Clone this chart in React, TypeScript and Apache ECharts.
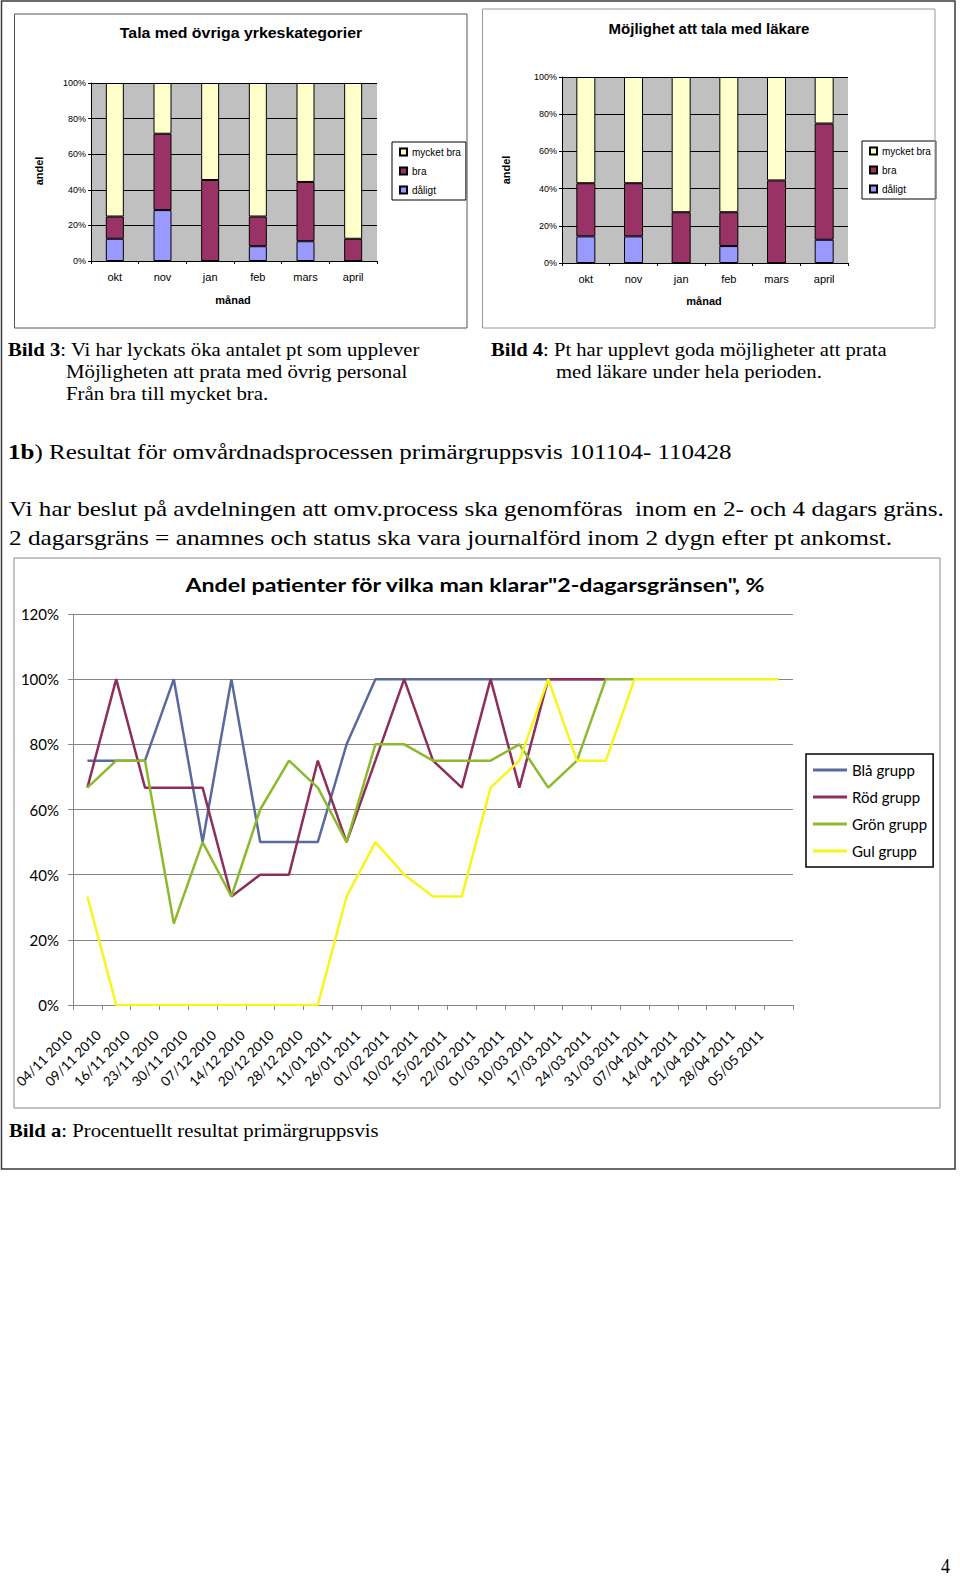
import React, { useEffect, useRef } from "react";
import * as echarts from "echarts";

// ---------- data ----------
const months = ["okt", "nov", "jan", "feb", "mars", "april"];
const c1Daligt = [12.5, 28.6, 0, 8.3, 11.1, 0];
const c1Bra = [12.5, 42.9, 45.5, 16.7, 33.3, 12.5];
const c1MycketBra = [75, 28.5, 54.5, 75, 55.6, 87.5];
const c2Daligt = [14.3, 14.3, 0, 9.1, 0, 12.5];
const c2Bra = [28.6, 28.6, 27.3, 18.2, 44.4, 62.5];
const c2MycketBra = [57.1, 57.1, 72.7, 72.7, 55.6, 25];

const dates = [
  "04/11 2010", "09/11 2010", "16/11 2010", "23/11 2010", "30/11 2010",
  "07/12 2010", "14/12 2010", "20/12 2010", "28/12 2010", "11/01 2011",
  "26/01 2011", "01/02 2011", "10/02 2011", "15/02 2011", "22/02 2011",
  "01/03 2011", "10/03 2011", "17/03 2011", "24/03 2011", "31/03 2011",
  "07/04 2011", "14/04 2011", "21/04 2011", "28/04 2011", "05/05 2011",
];
const blaGrupp = [75, 75, 75, 100, 50, 100, 50, 50, 50, 80, 100, 100, 100, 100, 100, 100, 100, 100, 100];
const rodGrupp = [66.7, 100, 66.7, 66.7, 66.7, 33.3, 40, 40, 75, 50, 75, 100, 75, 66.7, 100, 66.7, 100, 100, 100];
const gronGrupp = [66.7, 75, 75, 25, 50, 33.3, 60, 75, 66.7, 50, 80, 80, 75, 75, 75, 80, 66.7, 75, 100, 100];
const gulGrupp = [33.3, 0, 0, 0, 0, 0, 0, 0, 0, 33.3, 50, 40, 33.3, 33.3, 66.7, 75, 100, 75, 75, 100, 100, 100, 100, 100, 100];

const barLegend = ["mycket bra", "bra", "dåligt"];
const lineLegend = ["Blå grupp", "Röd grupp", "Grön grupp", "Gul grupp"];

// ---------- helpers ----------
const SANS = "Liberation Sans";
const SERIF = "Liberation Serif";
const CAL = "Lato";

function txt(text: string, x: number, y: number, o: any = {}) {
  const style: any = {
    text,
    fontFamily: o.family || SERIF,
    fontSize: o.size || 18,
    fontWeight: o.weight || "normal",
    fill: o.fill || "#000",
    align: o.align || "left",
    verticalAlign: "middle",
    textAlign: o.align || "left",
    textVerticalAlign: "middle",
  };
  if (o.rich) {
    style.rich = {
      b: {
        fontFamily: o.family || SERIF,
        fontSize: o.size || 18,
        fontWeight: "bold",
        fill: "#000",
      },
    };
  }
  return {
    type: "text",
    x,
    y,
    rotation: o.rotation || 0,
    scaleX: o.sx || 1,
    scaleY: o.sy || 1,
    z: 10,
    style,
  };
}

function frame(x: number, y: number, w: number, h: number, stroke: string, lw = 1) {
  return {
    type: "rect",
    shape: { x, y, width: w, height: h },
    style: { fill: "none", stroke, lineWidth: lw },
    z: 5,
  };
}

function barAxisX(gi: number) {
  return {
    gridIndex: gi,
    type: "category",
    data: months,
    axisLine: { lineStyle: { color: "#000", width: 1 } },
    axisTick: { show: true, length: 3, lineStyle: { color: "#000" } },
    axisLabel: { interval: 0, fontFamily: SANS, fontSize: 11, color: "#000", margin: 10 },
  };
}
function barAxisY(gi: number) {
  return {
    gridIndex: gi,
    type: "value",
    min: 0,
    max: 100,
    interval: 20,
    axisLine: { show: true, lineStyle: { color: "#000", width: 1 } },
    axisTick: { show: true, length: 3, lineStyle: { color: "#000" } },
    splitLine: { show: true, lineStyle: { color: "#000", width: 1 } },
    axisLabel: { formatter: "{value}%", fontFamily: SANS, fontSize: 9, color: "#000", margin: 5 },
  };
}
const barColors: Record<string, string> = {
  "mycket bra": "#FFFFCC",
  bra: "#993366",
  "dåligt": "#9999FF",
};
function barSeries(name: string, data: number[], gi: number, w: number) {
  return {
    type: "bar",
    name,
    data,
    xAxisIndex: gi,
    yAxisIndex: gi,
    stack: "s" + gi,
    barWidth: w,
    itemStyle: { color: barColors[name], borderColor: "#000", borderWidth: 1 },
  };
}
function barLegendBox(left: number, top: number) {
  return {
    data: barLegend,
    left,
    top,
    orient: "vertical",
    padding: [4, 5, 4, 7],
    borderColor: "#000",
    borderWidth: 1,
    backgroundColor: "#fff",
    itemWidth: 7,
    itemHeight: 7,
    itemGap: 7,
    icon: "rect",
    textStyle: { fontFamily: SANS, fontSize: 10, color: "#000", lineHeight: 12 },
  };
}
const lineColors: Record<string, string> = {
  "Blå grupp": "#5B6A9C",
  "Röd grupp": "#8E2F5B",
  "Grön grupp": "#8DB92C",
  "Gul grupp": "#F6F61A",
};
function lineSeries(name: string, data: number[]) {
  return {
    type: "line",
    name,
    data,
    xAxisIndex: 2,
    yAxisIndex: 2,
    symbol: "none",
    lineStyle: { width: 2.5, color: lineColors[name] },
    itemStyle: { color: lineColors[name] },
  };
}

export default function App() {
  const ref = useRef<HTMLDivElement>(null);
  useEffect(() => {
    const chart = echarts.init(ref.current!, null, { renderer: "svg" });
    const option: any = {
      animation: false,
      backgroundColor: "#fff",
      grid: [
        { left: 91, top: 83, width: 286, height: 178, show: true, backgroundColor: "#C0C0C0", borderWidth: 0 },
        { left: 562, top: 77, width: 286, height: 186, show: true, backgroundColor: "#C0C0C0", borderWidth: 0 },
        { left: 73, top: 614, width: 720, height: 391 },
      ],
      xAxis: [
        barAxisX(0),
        barAxisX(1),
        {
          gridIndex: 2,
          type: "category",
          data: dates,
          boundaryGap: true,
          axisLine: { lineStyle: { color: "#868686", width: 1 } },
          axisTick: { show: true, length: 5, interval: 0, lineStyle: { color: "#868686" } },
          axisLabel: {
            rotate: 45,
            interval: 0,
            fontFamily: CAL,
            fontSize: 13.5,
            color: "#000",
            margin: 10,
            padding: [0, 25, 0, 0],
          },
        },
      ],
      yAxis: [
        barAxisY(0),
        barAxisY(1),
        {
          gridIndex: 2,
          type: "value",
          min: 0,
          max: 120,
          interval: 20,
          axisLine: { show: true, lineStyle: { color: "#868686", width: 1 } },
          axisTick: { show: true, length: 5, lineStyle: { color: "#868686" } },
          splitLine: { show: true, lineStyle: { color: "#868686", width: 1 } },
          axisLabel: { formatter: "{value}%", fontFamily: CAL, fontSize: 15, color: "#000", margin: 14 },
        },
      ],
      legend: [
        barLegendBox(392, 142),
        barLegendBox(862, 141),
        {
          data: lineLegend,
          left: 806,
          top: 754,
          orient: "vertical",
          padding: [6, 6, 6, 7],
          borderColor: "#000",
          borderWidth: 1.5,
          itemWidth: 34,
          itemHeight: 3,
          itemGap: 7,
          icon: "rect",
          textStyle: { fontFamily: CAL, fontSize: 15, color: "#000", lineHeight: 20 },
        },
      ],
      series: [
        barSeries("dåligt", c1Daligt, 0, 18),
        barSeries("bra", c1Bra, 0, 18),
        barSeries("mycket bra", c1MycketBra, 0, 18),
        barSeries("dåligt", c2Daligt, 1, 19),
        barSeries("bra", c2Bra, 1, 19),
        barSeries("mycket bra", c2MycketBra, 1, 19),
        lineSeries("Blå grupp", blaGrupp),
        lineSeries("Röd grupp", rodGrupp),
        lineSeries("Grön grupp", gronGrupp),
        lineSeries("Gul grupp", gulGrupp),
      ],
      graphic: [
        frame(1.5, 1, 953.5, 1168, "#3a3a3a", 1.5),
        frame(14.5, 14, 452.5, 314, "#555"),
        frame(482.5, 9, 452.5, 319, "#999"),
        frame(14, 558, 926, 550, "#888"),
        // bar chart texts
        txt("Tala med övriga yrkeskategorier", 241, 33, { family: SANS, size: 15, weight: "bold", align: "center", sx: 1.06 }),
        txt("Möjlighet att tala med läkare", 709, 28, { family: SANS, size: 15, weight: "bold", align: "center" }),
        txt("andel", 39, 171, { family: SANS, size: 11, weight: "bold", align: "center", rotation: Math.PI / 2 }),
        txt("andel", 506, 170, { family: SANS, size: 11, weight: "bold", align: "center", rotation: Math.PI / 2 }),
        txt("månad", 233, 300, { family: SANS, size: 11, weight: "bold", align: "center" }),
        txt("månad", 704, 301, { family: SANS, size: 11, weight: "bold", align: "center" }),
        // captions
        txt("{b|Bild 3}: Vi har lyckats öka antalet pt som upplever", 8, 350, { rich: true, size: 18, sx: 1.15 }),
        txt("Möjligheten att prata med övrig personal", 66, 372, { size: 18, sx: 1.16 }),
        txt("Från bra till mycket bra.", 66, 394, { size: 18, sx: 1.16 }),
        txt("{b|Bild 4}: Pt har upplevt goda möjligheter att prata", 491, 350, { rich: true, size: 18, sx: 1.145 }),
        txt("med läkare under hela perioden.", 556, 372, { size: 18, sx: 1.15 }),
        txt("{b|1b}) Resultat för omvårdnadsprocessen primärgruppsvis 101104- 110428", 8, 452, { rich: true, size: 20, sx: 1.25 }),
        txt("Vi har beslut på avdelningen att omv.process ska genomföras  inom en 2- och 4 dagars gräns.", 9, 509, { size: 20, sx: 1.255 }),
        txt("2 dagarsgräns = anamnes och status ska vara journalförd inom 2 dygn efter pt ankomst.", 9, 538, { size: 20, sx: 1.265 }),
        txt("Andel patienter för vilka man klarar\"2-dagarsgränsen\", %", 475, 585, { family: CAL, size: 19, weight: "bold", align: "center", sx: 1.22 }),
        txt("{b|Bild a}: Procentuellt resultat primärgruppsvis", 9, 1131, { rich: true, size: 18, sx: 1.15 }),
        txt("4", 941, 1565, { size: 20, sx: 0.9, sy: 1.1 }),
      ],
    };
    chart.setOption(option);
    return () => chart.dispose();
  }, []);
  return (
    <div
      ref={ref}
      style={{ position: "absolute", left: 0, top: 0, width: 960, height: 1581, background: "#fff" }}
    />
  );
}
